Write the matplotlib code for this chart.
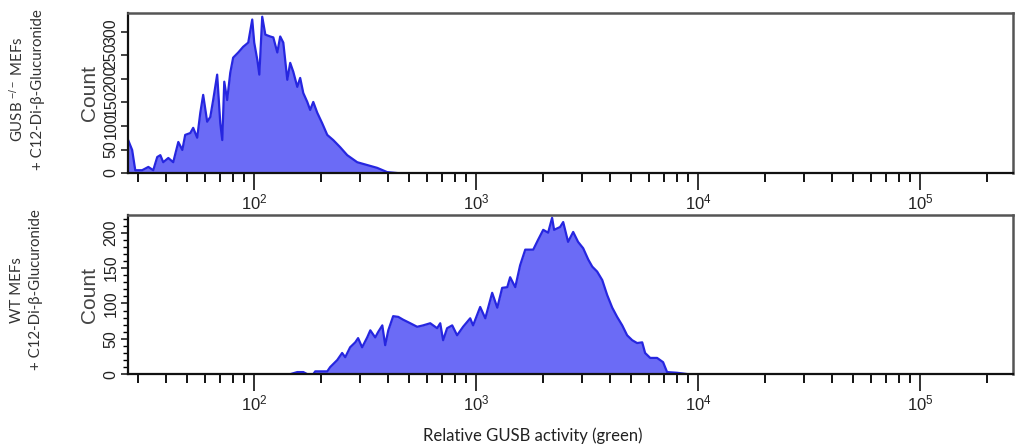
import numpy as np
import matplotlib.pyplot as plt
from matplotlib.ticker import LogLocator, NullFormatter, MultipleLocator

# ================= DATA =================
# channel position (log10 of fluorescence) and event count per channel
GUSB_KO_LOG = [1.432, 1.450, 1.464, 1.495, 1.523, 1.545, 1.563, 1.577, 1.590, 1.613,
               1.635, 1.658, 1.676, 1.689, 1.712, 1.725, 1.743, 1.757, 1.770, 1.788,
               1.802, 1.815, 1.833, 1.847, 1.856, 1.865, 1.878, 1.892, 1.905, 1.928,
               1.950, 1.973, 1.991, 2.000, 2.014, 2.023, 2.036, 2.050, 2.072, 2.086,
               2.104, 2.117, 2.131, 2.149, 2.162, 2.176, 2.194, 2.207, 2.221, 2.239,
               2.252, 2.266, 2.284, 2.306, 2.329, 2.356, 2.387, 2.419, 2.464, 2.509,
               2.554, 2.599, 2.644]
GUSB_KO_COUNT = [70, 49, 6, 6, 13, 6, 34, 38, 23, 32,
                 23, 66, 49, 81, 85, 96, 75, 128, 166, 109,
                 119, 155, 209, 106, 70, 194, 155, 213, 245, 256,
                 268, 277, 326, 277, 240, 209, 332, 294, 290, 288,
                 256, 290, 277, 198, 234, 215, 183, 202, 170, 151,
                 134, 151, 128, 106, 81, 70, 55, 38, 23, 17,
                 11, 2, 0]

WT_LOG = [2.162, 2.194, 2.221, 2.239, 2.266, 2.275, 2.329, 2.342, 2.374, 2.396,
          2.410, 2.432, 2.455, 2.468, 2.486, 2.509, 2.523, 2.545, 2.559, 2.577,
          2.590, 2.604, 2.626, 2.649, 2.671, 2.703, 2.734, 2.761, 2.793, 2.824,
          2.838, 2.851, 2.869, 2.892, 2.914, 2.941, 2.973, 2.986, 3.018, 3.041,
          3.072, 3.095, 3.117, 3.140, 3.153, 3.176, 3.198, 3.221, 3.257, 3.279,
          3.302, 3.324, 3.342, 3.351, 3.378, 3.392, 3.414, 3.437, 3.459, 3.482,
          3.505, 3.523, 3.545, 3.568, 3.590, 3.613, 3.635, 3.658, 3.680, 3.703,
          3.725, 3.748, 3.761, 3.784, 3.815, 3.842, 3.860, 3.905, 3.955]
WT_COUNT = [0, 3, 3, 0, 0, 4, 4, 10, 20, 30,
            24, 38, 45, 51, 38, 52, 62, 52, 60, 69,
            41, 62, 82, 81, 77, 72, 67, 69, 72, 65,
            72, 48, 65, 69, 55, 67, 79, 69, 95, 79,
            115, 94, 122, 123, 137, 123, 154, 176, 176, 190,
            204, 200, 221, 204, 208, 215, 187, 201, 187, 178,
            162, 152, 145, 133, 112, 94, 81, 69, 55, 48,
            44, 45, 30, 23, 23, 17, 3, 2, 0]

KO_LABEL = "GUSB $^{-/-}$ MEFs\n+ C12-Di-\u03b2-Glucuronide"
WT_LABEL = "WT MEFs\n+ C12-Di-\u03b2-Glucuronide"
X_LABEL = "Relative GUSB activity (green)"

KO_YTICKS = [0, 50, 100, 150, 200, 250, 300]
WT_YTICKS = [0, 50, 100, 150, 200]

FILL_COLOR = '#6b6bf6'
EDGE_COLOR = '#2626e0'
XLIM = (27, 2.62e5)

plt.rcParams['font.family'] = ['Liberation Sans', 'DejaVu Sans']
plt.rcParams['mathtext.fontset'] = 'custom'
plt.rcParams['mathtext.rm'] = 'Liberation Sans'
plt.rcParams['mathtext.it'] = 'Liberation Sans'


def draw_hist(ax, log_x, counts, ymax, yticks, minor_y):
    x = 10 ** np.array(log_x)
    y = np.array(counts)
    ax.fill_between(x, 0, y, color=FILL_COLOR, lw=0)
    ax.plot(x, y, color=EDGE_COLOR, lw=1.6)

    ax.set_xscale('log')
    ax.set_xlim(*XLIM)
    ax.set_ylim(0, ymax)
    ax.xaxis.set_major_locator(LogLocator(base=10))
    ax.xaxis.set_minor_locator(LogLocator(base=10, subs=np.arange(2, 10)))
    ax.xaxis.set_minor_formatter(NullFormatter())
    ax.tick_params(axis='x', which='major', direction='out', length=12, width=1.3,
                   pad=2, labelsize=12, colors='#222222')
    ax.tick_params(axis='x', which='minor', direction='out', length=6.5, width=1.3)

    ax.set_yticks(yticks)
    if minor_y:
        ax.yaxis.set_minor_locator(MultipleLocator(10))
        ax.tick_params(axis='y', which='minor', direction='out', length=3.5, width=1.0)
    ax.tick_params(axis='y', which='major', direction='out', length=5, width=1.2,
                   pad=2, labelsize=11.5, labelrotation=90, colors='#222222')
    for lab in ax.get_yticklabels():
        lab.set_va('center')
    ax.set_ylabel('Count', fontsize=15, color='#444444', labelpad=3)

    for side in ['left', 'bottom']:
        ax.spines[side].set_linewidth(1.6)
        ax.spines[side].set_color('#111111')
    for side in ['top', 'right']:
        ax.spines[side].set_linewidth(1.8)
        ax.spines[side].set_color('#555555')


def main():
    fig = plt.figure(figsize=(10.16, 4.46), dpi=100)
    ax_ko = fig.add_axes([0.126, 0.612, 0.871, 0.359])
    ax_wt = fig.add_axes([0.126, 0.161, 0.871, 0.357])

    draw_hist(ax_ko, GUSB_KO_LOG, GUSB_KO_COUNT, 340, KO_YTICKS, False)
    draw_hist(ax_wt, WT_LOG, WT_COUNT, 225, WT_YTICKS, True)

    # sample annotations on the far left
    fig.text(0.026, 0.80, KO_LABEL, rotation=90, ha='center', va='center',
             fontsize=10.8, color='#333333', family=['Lato', 'DejaVu Sans'],
             linespacing=1.45)
    fig.text(0.026, 0.35, WT_LABEL, rotation=90, ha='center', va='center',
             fontsize=10.8, color='#333333', family=['Lato', 'DejaVu Sans'],
             linespacing=1.45)
    fig.text(0.524, 0.022, X_LABEL, ha='center', va='center', fontsize=12,
             color='#222222', family=['Lato', 'DejaVu Sans'])

    fig.savefig('out.png', dpi=100)
    plt.close(fig)


if __name__ == "__main__":
    main()
